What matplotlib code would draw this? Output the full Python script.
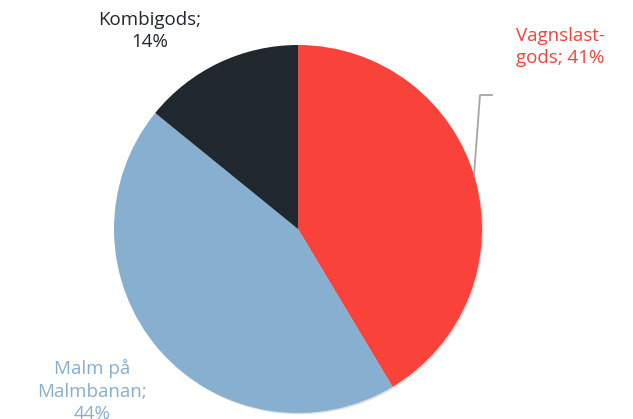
import matplotlib
matplotlib.use("Agg")
import matplotlib.pyplot as plt
import matplotlib.patheffects as pe

labels = ["Vagnslast-\ngods; 41%", "Malm på\nMalmbanan;\n44%", "Kombigods;\n14%"]
values = [41, 44, 14]
colors = ["#F9423A", "#87AFD0", "#21272E"]

W, H = 633, 419
fig = plt.figure(figsize=(W / 100, H / 100), dpi=100)
ax = fig.add_axes([0, 0, 1, 1])

cx, cy, r = 298, H - 229, 184
wedges, _ = ax.pie(values, colors=colors, startangle=90, counterclock=False,
                   radius=r, center=(cx, cy), frame=True,
                   wedgeprops=dict(linewidth=0))
for w in wedges:
    w.set_path_effects([pe.SimplePatchShadow(offset=(1, -1), shadow_rgbFace="#888888", alpha=0.25),
                        pe.Normal()])
ax.set_xlim(0, W)
ax.set_ylim(0, H)
ax.axis("off")

font = "Open Sans"
fs = 13.5
ls = 1.3
# leader line for first label
ax.plot([474, 480, 492], [H - 176, H - 95, H - 95], color="#A6A6A6", lw=1.3)
ax.text(560, H - 47, labels[0], color=colors[0], fontsize=fs, family=font,
        ha="center", va="center", linespacing=ls)
ax.text(92, H - 391, labels[1], color=colors[1], fontsize=fs, family=font,
        ha="center", va="center", linespacing=ls)
ax.text(150, H - 31, labels[2], color=colors[2], fontsize=fs, family=font,
        ha="center", va="center", linespacing=ls)

fig.savefig("out.png", dpi=100)
